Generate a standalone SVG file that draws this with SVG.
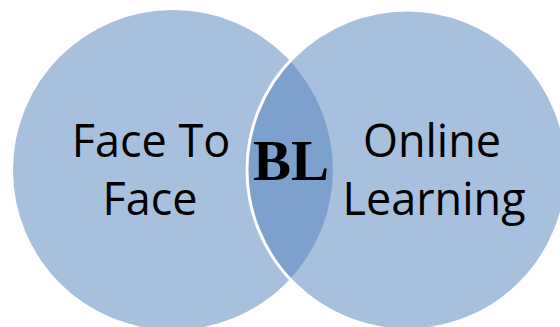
<svg xmlns="http://www.w3.org/2000/svg" width="560" height="327" viewBox="0 0 560 327">
<style>
.c{fill:#A7C0DE}
.lens{fill:#7BA1CC}
.t{font-family:"Open Sans","Liberation Sans",sans-serif;font-size:45px;fill:#000;text-anchor:middle}
.bl{font-family:"Liberation Serif",serif;font-weight:bold;font-size:57px;fill:#000;text-anchor:middle}
</style>
<rect width="560" height="327" fill="#fff"/>
<g id="face-to-face">
<circle class="c" cx="173" cy="170" r="160"/>
</g>
<g id="online-learning">
<circle class="c" cx="407" cy="170" r="160"/>
</g>
<g id="bl">
<path class="lens" d="M290 61 A160 160 0 0 1 290 279 A160 160 0 0 1 290 61 Z"/>
<circle cx="407" cy="170" r="160" fill="none" stroke="#fff" stroke-width="3"/>
</g>
<g id="labels">
<text class="t" x="151" y="157">Face To</text>
<text class="t" x="150" y="215">Face</text>
<text class="t" x="432" y="157">Online</text>
<text class="t" x="434" y="215">Learning</text>
<text class="bl" x="291" y="180">BL</text>
</g>
</svg>
